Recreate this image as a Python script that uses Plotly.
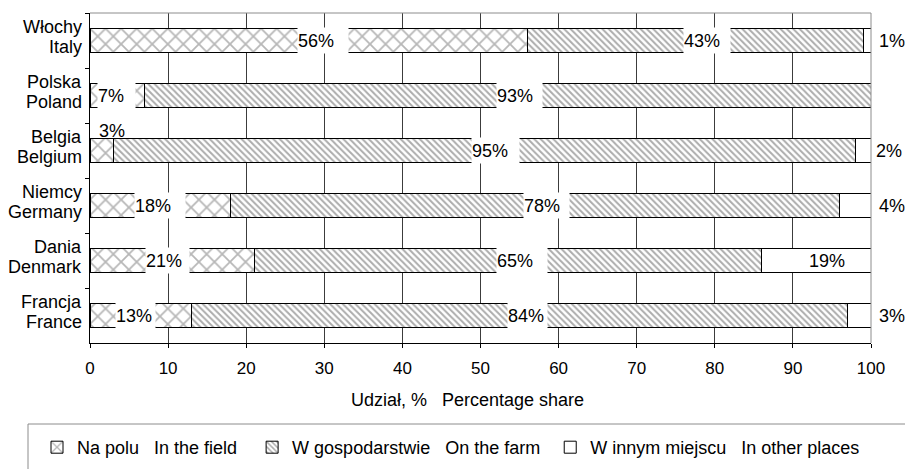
import plotly.graph_objects as go

# Countries (top to bottom), Polish and English names
countries_pl = ["Włochy", "Polska", "Belgia", "Niemcy", "Dania", "Francja"]
countries_en = ["Italy", "Poland", "Belgium", "Germany", "Denmark", "France"]

# Percentage shares by place
in_field = [56, 7, 3, 18, 21, 13]
on_farm = [43, 93, 95, 78, 65, 84]
other_places = [1, 0, 2, 4, 19, 3]

series_names = [
    "Na polu\u00a0\u00a0\u00a0In the field\u00a0\u00a0",
    "W gospodarstwie\u00a0\u00a0\u00a0On the farm\u00a0",
    "W innym miejscu\u00a0\u00a0\u00a0In other places",
]
x_ticks = [0, 10, 20, 30, 40, 50, 60, 70, 80, 90, 100]
axis_title = "Udział, %\u00a0\u00a0\u00a0Percentage share"

FONT = "Liberation Sans, Arial, sans-serif"
W, H = 905, 469
L, R, T, B = 90, 34, 13, 126
PW, PH = W - L - R, H - T - B


def px_x(px):
    return (px - L) / PW


def px_y(py):
    return (H - B - py) / PH


series = [in_field, on_farm, other_places]
patterns = [
    dict(shape="x", size=11, solidity=0.3, fgcolor="#707070", bgcolor="white"),
    dict(shape="\\", size=4.5, solidity=0.45, fgcolor="#5a5a5a", bgcolor="white"),
    None,
]

fig = go.Figure()
for name, vals, pat in zip(series_names, series, patterns):
    marker = dict(color="white", line=dict(color="black", width=1))
    if pat:
        marker["pattern"] = pat
    fig.add_trace(go.Bar(
        x=vals, y=countries_en, orientation="h", name=name,
        marker=marker, width=0.42, hoverinfo="skip",
    ))

# Label placement: (series index, country) -> (kind, x shift px, box width px)
label_style = {
    (0, "Italy"): ("box", -12, 50), (1, "Italy"): ("box", -12, 46), (2, "Italy"): ("out", 6, 0),
    (0, "Poland"): ("box", -20, 37), (1, "Poland"): ("box", -12, 45),
    (0, "Belgium"): ("above", -5, 0), (1, "Belgium"): ("box", -13, 47), (2, "Belgium"): ("out", 3, 0),
    (0, "Germany"): ("box", -26, 50), (1, "Germany"): ("box", -12, 45), (2, "Germany"): ("out", 6, 0),
    (0, "Denmark"): ("box", -27, 43), (1, "Denmark"): ("box", -12, 50), (2, "Denmark"): ("plain", -9, 0),
    (0, "France"): ("box", -26, 39), (1, "France"): ("box", -13, 39), (2, "France"): ("out", 6, 0),
}

annotations = []
for ci, country in enumerate(countries_en):
    start = 0
    for si, vals in enumerate(series):
        v = vals[ci]
        end = start + v
        key = (si, country)
        if v > 0 and key in label_style:
            kind, shift, bw = label_style[key]
            center = (start + min(end, 100)) / 2
            a = dict(text=f"{v}%", xref="x", yref="y", y=country, showarrow=False,
                     font=dict(family=FONT, size=18, color="black"),
                     xanchor="left", yanchor="middle", align="left")
            if kind == "box":
                a.update(x=center, xshift=shift, width=bw, height=25, bgcolor="white", borderpad=0)
            elif kind == "out":
                a.update(x=100, xshift=shift)
            elif kind == "above":
                a.update(x=center, xshift=shift, yshift=20)
            else:
                a.update(x=center, xshift=shift)
            annotations.append(a)
        start = end

# Two-line category labels
for pl, en in zip(countries_pl, countries_en):
    for txt, dy in ((pl, 14), (en, -6.5)):
        annotations.append(dict(
            text=txt, xref="paper", yref="y", x=0, y=en, xshift=-6, yshift=dy,
            xanchor="right", yanchor="middle", showarrow=False,
            font=dict(family=FONT, size=18, color="black"),
        ))

annotations.append(dict(
    text=axis_title, xref="paper", yref="paper", x=px_x(467), y=px_y(400),
    xanchor="center", yanchor="middle", showarrow=False,
    font=dict(family=FONT, size=18, color="black"),
))

shapes = [
    # top and right plot frame
    dict(type="line", xref="paper", yref="paper", x0=0, x1=1, y0=1, y1=1,
         line=dict(color="#8c8c8c", width=1), layer="above"),
    dict(type="line", xref="paper", yref="paper", x0=1, x1=1, y0=0, y1=1,
         line=dict(color="#8c8c8c", width=1), layer="above"),
    # legend frame
    dict(type="rect", xref="paper", yref="paper", x0=px_x(28), x1=px_x(930),
         y0=px_y(424), y1=px_y(500), line=dict(color="#8c8c8c", width=1),
         fillcolor="rgba(0,0,0,0)", layer="above"),
]

fig.update_layout(
    width=W, height=H, barmode="stack",
    margin=dict(l=L, r=R, t=T, b=B, pad=0, autoexpand=False),
    paper_bgcolor="white", plot_bgcolor="white",
    font=dict(family=FONT, size=18, color="black"),
    annotations=annotations, shapes=shapes,
    legend=dict(orientation="h", x=px_x(37), y=px_y(429), xanchor="left", yanchor="top",
                traceorder="normal", font=dict(family=FONT, size=18, color="black"),
                bgcolor="rgba(0,0,0,0)", borderwidth=0),
    showlegend=True,
)
fig.update_xaxes(
    range=[0, 100], tickvals=x_ticks, ticks="outside", ticklen=4, tickcolor="black",
    showline=True, linecolor="black", linewidth=1,
    showgrid=True, gridcolor="#3c3c3c", gridwidth=1, zeroline=False,
    tickfont=dict(family=FONT, size=17, color="black"), ticklabelstandoff=6,
    fixedrange=True,
)
fig.update_yaxes(
    type="category", categoryorder="array", categoryarray=countries_en,
    autorange="reversed", showticklabels=False,
    ticks="outside", tickson="boundaries", ticklen=4, tickcolor="black",
    showline=True, linecolor="black", linewidth=1, showgrid=False, zeroline=False,
    fixedrange=True,
)

fig.write_html("out.html")
